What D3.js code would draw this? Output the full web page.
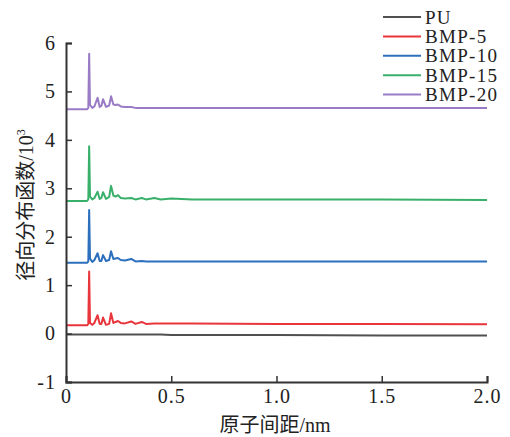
<!DOCTYPE html>
<html>
<head>
<meta charset="utf-8">
<script src="https://cdn.jsdelivr.net/npm/d3@7"></script>
<style>
body { margin: 0; background: #fff; }
svg text { font-family: "Liberation Serif", "Times New Roman", serif; fill: #222; }
</style>
</head>
<body>
<div id="chart"></div>
<script>
// radial distribution data (values in 10^3)
var distX = [0, 0.10, 0.106, 0.11, 0.114, 0.125, 0.135, 0.15, 0.16, 0.168, 0.176, 0.19, 0.205, 0.214, 0.225, 0.235, 0.247, 0.26, 0.28, 0.31, 0.33, 0.36, 0.38, 0.42, 0.45, 0.5, 0.6, 1.0, 1.5, 2.0];
var puY   = [-0.02, -0.02, -0.02, -0.02, -0.02, -0.02, -0.02, -0.02, -0.02, -0.02, -0.02, -0.02, -0.02, -0.02, -0.02, -0.02, -0.02, -0.02, -0.02, -0.02, -0.02, -0.02, -0.02, -0.02, -0.02, -0.03, -0.03, -0.03, -0.04, -0.04];
var bmp5  = [0.17, 0.17, 0.2, 1.28, 0.22, 0.18, 0.22, 0.38, 0.2, 0.2, 0.33, 0.18, 0.2, 0.42, 0.22, 0.24, 0.26, 0.22, 0.21, 0.25, 0.2, 0.24, 0.2, 0.21, 0.21, 0.21, 0.21, 0.2, 0.2, 0.19];
var bmp10 = [1.46, 1.46, 1.49, 2.55, 1.55, 1.48, 1.52, 1.66, 1.5, 1.5, 1.62, 1.5, 1.52, 1.7, 1.54, 1.55, 1.56, 1.52, 1.51, 1.54, 1.49, 1.5, 1.49, 1.49, 1.49, 1.49, 1.49, 1.49, 1.49, 1.49];
var bmp15 = [2.74, 2.74, 2.77, 3.87, 2.83, 2.77, 2.8, 2.93, 2.78, 2.8, 2.92, 2.78, 2.82, 3.05, 2.85, 2.83, 2.86, 2.8, 2.79, 2.8, 2.77, 2.8, 2.77, 2.8, 2.77, 2.79, 2.77, 2.77, 2.77, 2.76];
var bmp20 = [4.63, 4.63, 4.66, 5.78, 4.72, 4.66, 4.69, 4.87, 4.68, 4.7, 4.84, 4.68, 4.71, 4.9, 4.73, 4.72, 4.73, 4.69, 4.68, 4.68, 4.66, 4.66, 4.66, 4.66, 4.66, 4.66, 4.66, 4.66, 4.66, 4.66];

var seriesNames = ["PU", "BMP-5", "BMP-10", "BMP-15", "BMP-20"];
var seriesColors = ["#505050", "#e8363c", "#2c6fbd", "#39b06a", "#9a7cc6"];
var seriesData = [puY, bmp5, bmp10, bmp15, bmp20];

var xTicks = [0, 0.5, 1.0, 1.5, 2.0];
var yTicks = [-1, 0, 1, 2, 3, 4, 5, 6];

var width = 510, height = 437;
var margin = {left: 66, right: 487, top: 43, bottom: 382};

var svg = d3.select("#chart").append("svg")
    .attr("width", width)
    .attr("height", height);

var x = d3.scaleLinear().domain([0, 2]).range([margin.left, margin.right]);
var y = d3.scaleLinear().domain([-1, 6]).range([margin.bottom, margin.top]);

var line = d3.line()
    .x(function(d) { return x(d[0]); })
    .y(function(d) { return y(d[1]); });

seriesData.forEach(function(vals, i) {
    var pts = distX.map(function(v, j) { return [v, vals[j]]; });
    svg.append("path")
        .datum(pts)
        .attr("fill", "none")
        .attr("stroke", seriesColors[i])
        .attr("stroke-width", 2)
        .attr("stroke-linejoin", "round")
        .attr("d", line);
});

// axes, ticks pointing inward
var xAxis = svg.append("g")
    .attr("transform", "translate(0," + margin.bottom + ")")
    .call(d3.axisBottom(x).tickValues(xTicks).tickSize(-6).tickPadding(7)
        .tickFormat(function(d) { return d === 0 ? "0" : d.toFixed(1); }));
var yAxis = svg.append("g")
    .attr("transform", "translate(" + margin.left + ",0)")
    .call(d3.axisLeft(y).tickValues(yTicks).tickSize(-6).tickPadding(10)
        .tickFormat(function(d) { return String(d); }));

[xAxis, yAxis].forEach(function(g) {
    g.select(".domain").attr("stroke", "#333").attr("stroke-width", 2);
    g.selectAll(".tick line").attr("stroke", "#333").attr("stroke-width", 1.5);
    g.selectAll(".tick text")
        .style("font-family", "'Liberation Serif', serif")
        .style("font-size", "20px")
        .style("letter-spacing", "1px")
        .attr("fill", "#222");
});

// axis titles
svg.append("text")
    .attr("x", 275).attr("y", 432)
    .attr("text-anchor", "middle")
    .style("font-size", "20px")
    .html("<tspan style=\"font-family:'Noto Sans CJK SC'\">原子间距</tspan>/nm");

svg.append("text")
    .attr("transform", "translate(33,205) rotate(-90)")
    .attr("text-anchor", "middle")
    .style("font-size", "20px")
    .html("<tspan style=\"font-family:'Noto Sans CJK SC'\">径向分布函数</tspan>/10<tspan dy=\"-8\" font-size=\"12px\">3</tspan>");

// legend
var legend = svg.append("g");
seriesNames.forEach(function(name, i) {
    var ly = 17 + i * 19.4;
    legend.append("line")
        .attr("x1", 383).attr("x2", 421)
        .attr("y1", ly).attr("y2", ly)
        .attr("stroke", seriesColors[i])
        .attr("stroke-width", 2);
    legend.append("text")
        .attr("x", 425).attr("y", ly + 6.5)
        .style("font-size", "19px")
        .style("letter-spacing", "1.3px")
        .text(name);
});
</script>
</body>
</html>
